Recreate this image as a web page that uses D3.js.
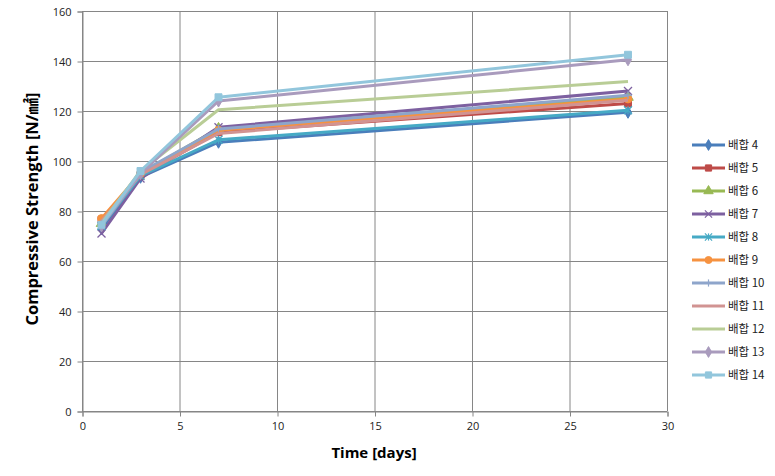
<!DOCTYPE html>
<html>
<head>
<meta charset="utf-8">
<script src="https://cdn.jsdelivr.net/npm/d3@7"></script>
<style>
body { margin: 0; background: #fff; }
text { font-family: "Noto Sans CJK KR", "DejaVu Sans", sans-serif; }
</style>
</head>
<body>
<script>
var days = [1, 3, 7, 28];
var names = ["배합 4", "배합 5", "배합 6", "배합 7", "배합 8", "배합 9", "배합 10", "배합 11", "배합 12", "배합 13", "배합 14"];
var values = [
    [73, 93.5, 107.5, 119.5],
    [76.5, 94, 111.5, 123],
    [75, 95, 113, 125.5],
    [71, 93, 113.5, 128],
    [74, 94, 108.5, 120.3],
    [77, 95, 112.3, 124.8],
    [75, 95.5, 112.8, 126.3],
    [76, 94.5, 111, 124.3],
    [75, 96, 120.5, 131.8],
    [74, 95, 124, 140.5],
    [74.5, 96, 125.5, 142.5]
];
var colors = ["#4a7ebb", "#be4b48", "#98b954", "#7d60a0", "#46aac5", "#f69240", "#8ea5cb", "#d19392", "#b9cd96", "#a99bbd", "#92c6dc"];
var markers = ["diamond", "square", "triangle", "x", "star", "circle", "plus", "none", "none", "diamond", "square"];
var xTicks = [0, 5, 10, 15, 20, 25, 30];
var yTicks = [0, 20, 40, 60, 80, 100, 120, 140, 160];

var width = 775, height = 476;
var svg = d3.select("body").append("svg")
    .attr("width", width)
    .attr("height", height);

var x = d3.scaleLinear().domain([0, 30]).range([82, 667]);
var y = d3.scaleLinear().domain([0, 160]).range([411, 11]);

// grid
svg.append("g").selectAll("line").data(yTicks).enter().append("line")
    .attr("x1", 82).attr("x2", 667)
    .attr("y1", d => y(d) + 0.5).attr("y2", d => y(d) + 0.5)
    .attr("stroke", "#868686");
svg.append("g").selectAll("line").data(xTicks).enter().append("line")
    .attr("x1", d => x(d) + 0.5).attr("x2", d => x(d) + 0.5)
    .attr("y1", 11).attr("y2", 411)
    .attr("stroke", "#868686");

var yAxis = svg.append("g")
    .attr("transform", "translate(82.5,0.5)")
    .call(d3.axisLeft(y).tickValues(yTicks).tickSize(5).tickPadding(6));
var xAxis = svg.append("g")
    .attr("transform", "translate(0.5,411.5)")
    .call(d3.axisBottom(x).tickValues(xTicks).tickSize(5).tickPadding(6));
[yAxis, xAxis].forEach(function (a) {
    a.select(".domain").attr("stroke", "#868686");
    a.selectAll(".tick line").attr("stroke", "#868686");
    a.selectAll("text").attr("font-size", 11).attr("fill", "#222")
        .style("font-family", "'Open Sans', sans-serif");
});

svg.append("text")
    .attr("x", 374).attr("y", 458)
    .attr("text-anchor", "middle")
    .attr("font-size", 15).attr("font-weight", "bold")
    .style("font-family", "'Open Sans', sans-serif")
    .text("Time [days]");
svg.append("text")
    .attr("transform", "translate(38,209) rotate(-90)")
    .attr("text-anchor", "middle")
    .attr("font-size", 16.5).attr("font-weight", "bold")
    .style("font-family", "'Open Sans', 'Noto Sans CJK KR', sans-serif")
    .text("Compressive Strength [N/㎟]");

function drawMarker(g, type, color, cx, cy, k) {
    var sym = null;
    if (type == "diamond") sym = d3.symbolDiamond;
    if (type == "square") sym = d3.symbolSquare;
    if (type == "triangle") sym = d3.symbolTriangle;
    if (type == "circle") sym = d3.symbolCircle;
    if (sym) {
        g.append("path")
            .attr("d", d3.symbol().type(sym).size((type == "diamond" ? 42 : 48) * k)())
            .attr("transform", "translate(" + cx + "," + cy + ")")
            .attr("fill", color).attr("stroke", color);
    } else if (type == "x" || type == "star" || type == "plus") {
        var r = 4 * Math.sqrt(k);
        var segs = [];
        if (type != "plus") segs.push([-r, -r, r, r], [-r, r, r, -r]);
        if (type != "x") segs.push([0, -r, 0, r]);
        if (type == "plus") segs.push([-r, 0, r, 0]);
        segs.forEach(function (s) {
            g.append("line")
                .attr("x1", cx + s[0]).attr("y1", cy + s[1])
                .attr("x2", cx + s[2]).attr("y2", cy + s[3])
                .attr("stroke", color).attr("stroke-width", 1.2);
        });
    }
}

var line = d3.line()
    .x(d => x(d[0]))
    .y(d => y(d[1]));

names.forEach(function (name, i) {
    var pts = days.map((d, j) => [d, values[i][j]]);
    var g = svg.append("g");
    g.append("path")
        .attr("d", line(pts))
        .attr("fill", "none")
        .attr("stroke", colors[i])
        .attr("stroke-width", 3)
        .attr("stroke-linejoin", "round");
    pts.forEach(function (p) {
        drawMarker(g, markers[i], colors[i], x(p[0]), y(p[1]), 1);
    });
});

// legend
var legend = svg.append("g");
names.forEach(function (name, i) {
    var ly = 145 + i * 23;
    legend.append("line")
        .attr("x1", 692).attr("x2", 725)
        .attr("y1", ly).attr("y2", ly)
        .attr("stroke", colors[i]).attr("stroke-width", 3);
    drawMarker(legend, markers[i], colors[i], 708.5, ly, 0.8);
    legend.append("text")
        .attr("x", 728).attr("y", ly + 4)
        .attr("font-size", 11.5).attr("fill", "#222")
        .text(name);
});
</script>
</body>
</html>
